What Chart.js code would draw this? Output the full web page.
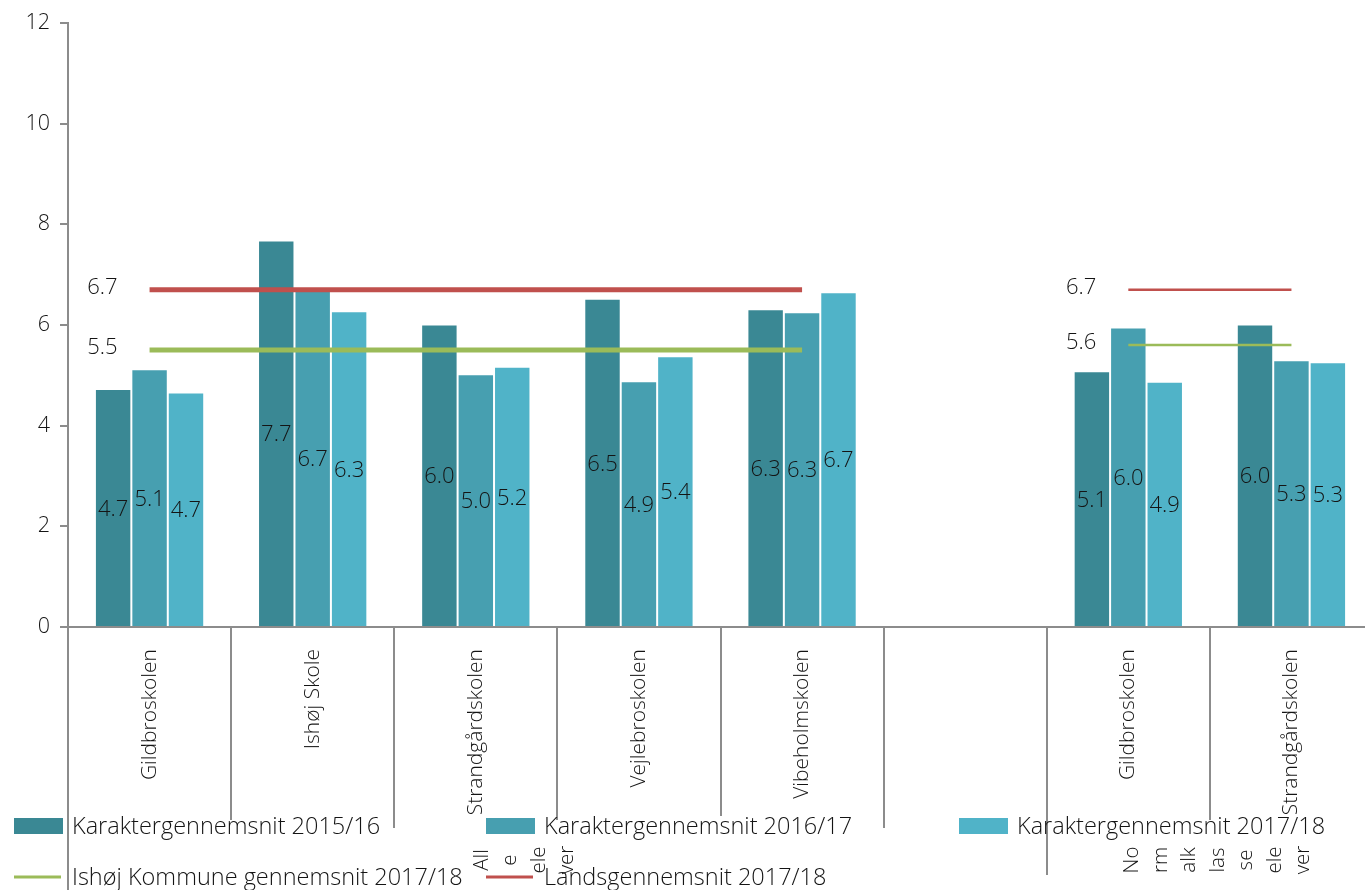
<!DOCTYPE html>
<html>
<head>
<meta charset="utf-8">
<script src="https://cdn.jsdelivr.net/npm/chart.js@4.4.1/dist/chart.umd.min.js"></script>
<style>
  html, body { margin: 0; padding: 0; background: #fff; overflow: hidden; }
  #wrap { width: 1373px; height: 890px; }
</style>
</head>
<body>
<div id="wrap"><canvas id="chart" width="1373" height="890"></canvas></div>
<script>
// categories (slot 6 is the empty gap between the two groups)
var schools = ['Gildbroskolen', 'Ishøj Skole', 'Strandgårdskolen', 'Vejlebroskolen', 'Vibeholmskolen', '', 'Gildbroskolen', 'Strandgårdskolen'];
var groupLabels = ['Alle elever', 'Normalklasseelever'];
var groupLabelLines = [['All', 'e', 'ele', 'ver'], ['No', 'rm', 'alk', 'las', 'se', 'ele', 'ver']];

var karakter1516 = [4.73, 7.68, 6.01, 6.52, 6.31, null, 5.08, 6.01];
var karakter1617 = [5.12, 6.70, 5.02, 4.88, 6.25, null, 5.95, 5.30];
var karakter1718 = [4.66, 6.27, 5.17, 5.38, 6.65, null, 4.87, 5.26];

var kommuneAlle = [5.5, 5.5, 5.5, 5.5, 5.5, null, null, null];
var landsAlle   = [6.7, 6.7, 6.7, 6.7, 6.7, null, null, null];
var kommuneNorm = [null, null, null, null, null, null, 5.6, 5.6];
var landsNorm   = [null, null, null, null, null, null, 6.7, 6.7];

var yTicks = [0, 2, 4, 6, 8, 10, 12];

var FONT = "'Open Sans', 'DejaVu Sans', sans-serif";
var TEXT = '#141414';
var AXIS = '#8c8c8c';
var colors = ['#3a8894', '#479fb0', '#50b3c8'];
var GREEN = '#9bbb59', RED = '#c0504d';

var barSet = function(label, data, color) {
  return {type: 'bar', label: label, data: data, backgroundColor: color,
          borderColor: 'rgba(255,255,255,0.25)', borderWidth: 1, order: 1,
          barPercentage: 1, categoryPercentage: 0.67};
};
var lineSet = function(label, data, color, width) {
  return {type: 'line', label: label, data: data, borderColor: color, backgroundColor: color,
          borderWidth: width, pointRadius: 0, spanGaps: false, order: 0, lineLabel: true};
};

// separator lines under the x axis, ends in px from top of canvas
var sepEnds = [890, 820, 828, 820, 816, 828, 875, 820, 820];

var axisDeco = {
  id: 'axisDeco',
  afterDatasetsDraw: function(chart) {
    var ctx = chart.ctx, xs = chart.scales.x, area = chart.chartArea;
    var w = xs.getPixelForValue(1) - xs.getPixelForValue(0);
    ctx.save();

    // value labels inside bars
    ctx.font = '300 22px ' + FONT;
    ctx.fillStyle = TEXT;
    ctx.textAlign = 'center';
    ctx.textBaseline = 'middle';
    chart.data.datasets.forEach(function(ds, di) {
      var meta = chart.getDatasetMeta(di);
      meta.data.forEach(function(el, i) {
        var v = ds.data[i];
        if (v == null) return;
        if (ds.type === 'bar') {
          ctx.fillText(v.toFixed(1), el.x, (el.y + el.base) / 2 + 2);
        }
      });
      // reference line labels to the left of the first point
      if (ds.lineLabel) {
        var first = ds.data.findIndex(function(v) { return v != null; });
        var el = meta.data[first];
        ctx.textAlign = 'right';
        ctx.fillText(ds.data[first].toFixed(1), el.x - 32, el.y - 2);
        ctx.textAlign = 'center';
      }
    });

    // category separators
    ctx.strokeStyle = AXIS;
    ctx.lineWidth = 2;
    for (var i = 0; i <= schools.length; i++) {
      var x = Math.round(xs.getPixelForValue(i) - w / 2);
      ctx.beginPath();
      ctx.moveTo(x, area.bottom);
      ctx.lineTo(x, sepEnds[i]);
      ctx.stroke();
    }

    // group labels (wrapped, rotated)
    ctx.font = '300 20.5px ' + FONT;
    var groupPos = [2.3, 6.55];
    groupLabelLines.forEach(function(lines, g) {
      var cx = xs.getPixelForValue(groupPos[g]);
      var step = 28.5;
      var x0 = cx - step * (lines.length - 1) / 2;
      lines.forEach(function(t, k) {
        ctx.save();
        ctx.translate(x0 + k * step, 860);
        ctx.rotate(-Math.PI / 2);
        ctx.textAlign = 'center';
        ctx.textBaseline = 'middle';
        ctx.fillText(t, 0, 0);
        ctx.restore();
      });
    });

    // legend
    var items = [
      {ds: 0, x: 14, y: 826, kind: 'box'},
      {ds: 1, x: 486, y: 826, kind: 'box'},
      {ds: 2, x: 959, y: 826, kind: 'box'},
      {ds: 3, x: 14, y: 877, kind: 'line'},
      {ds: 4, x: 486, y: 877, kind: 'line'}
    ];
    ctx.font = '300 23.5px ' + FONT;
    ctx.textAlign = 'left';
    ctx.textBaseline = 'middle';
    items.forEach(function(it) {
      var ds = chart.data.datasets[it.ds];
      if (it.kind === 'box') {
        ctx.fillStyle = ds.backgroundColor;
        ctx.fillRect(it.x, it.y - 8, 49, 16);
      } else {
        ctx.strokeStyle = ds.borderColor;
        ctx.lineWidth = 3;
        ctx.beginPath();
        ctx.moveTo(it.x, it.y);
        ctx.lineTo(it.x + 47, it.y);
        ctx.stroke();
      }
      ctx.fillStyle = TEXT;
      ctx.fillText(ds.label, it.x + 58, it.y + 1);
    });
    ctx.restore();
  }
};

new Chart(document.getElementById('chart'), {
  data: {
    labels: schools,
    datasets: [
      barSet('Karaktergennemsnit 2015/16', karakter1516, colors[0]),
      barSet('Karaktergennemsnit 2016/17', karakter1617, colors[1]),
      barSet('Karaktergennemsnit 2017/18', karakter1718, colors[2]),
      lineSet('Ishøj Kommune gennemsnit 2017/18', kommuneAlle, GREEN, 5),
      lineSet('Landsgennemsnit 2017/18', landsAlle, RED, 5),
      lineSet('Ishøj Kommune gennemsnit 2017/18', kommuneNorm, GREEN, 2.5),
      lineSet('Landsgennemsnit 2017/18', landsNorm, RED, 2.5)
    ]
  },
  options: {
    responsive: false,
    animation: false,
    devicePixelRatio: 1,
    layout: {padding: {top: 20, left: 0, right: 0, bottom: 0}},
    plugins: {legend: {display: false}, tooltip: {enabled: false}},
    scales: {
      x: {
        offset: true,
        grid: {display: false, drawTicks: false},
        border: {color: AXIS, width: 2},
        ticks: {maxRotation: 90, minRotation: 90, autoSkip: false, padding: 22,
                color: TEXT, font: {family: FONT, size: 21, weight: 300}},
        afterFit: function(s) { s.height = 263; }
      },
      y: {
        min: 0, max: 12,
        afterBuildTicks: function(s) { s.ticks = yTicks.map(function(v) { return {value: v}; }); },
        grid: {drawOnChartArea: false, tickLength: 8, color: AXIS, lineWidth: 2},
        border: {color: AXIS, width: 2},
        ticks: {padding: 10, color: TEXT, font: {family: FONT, size: 21.5, weight: 300}},
        afterFit: function(s) { s.width = 68; }
      }
    }
  },
  plugins: [axisDeco]
});
</script>
</body>
</html>
